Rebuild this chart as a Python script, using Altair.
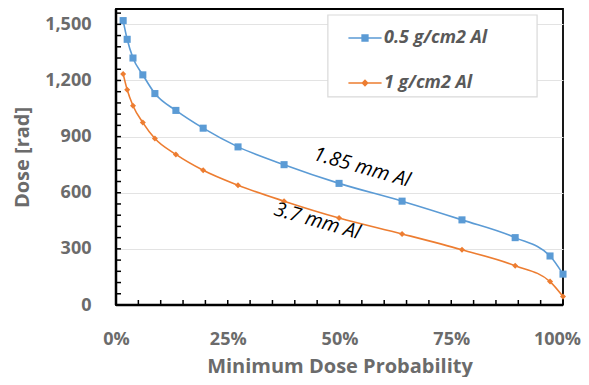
import altair as alt
import pandas as pd

# ---- data ----
series_names = ["0.5 g/cm2 Al", "1 g/cm2 Al"]
prob = [0.016, 0.025, 0.038, 0.060, 0.087, 0.134, 0.195, 0.273, 0.376,
        0.499, 0.640, 0.774, 0.893, 0.971, 1.000]
dose_05 = [1520, 1420, 1320, 1230, 1130, 1040, 945, 845, 750,
           650, 555, 455, 360, 262, 165]
dose_1 = [1235, 1150, 1065, 975, 890, 805, 720, 640, 555,
          465, 380, 295, 210, 125, 45]

y_ticks = [0, 300, 600, 900, 1200, 1500]
x_ticks = [0, 0.25, 0.5, 0.75, 1.0]
y_minor = list(range(0, 1561, 60))
x_minor = [i / 100 for i in range(0, 101, 5)]

ann_text = ["1.85 mm Al", "3.7 mm Al"]
ann_x = [0.55, 0.45]
ann_y = [735, 448]

colors = ["#5b9bd5", "#ed7d31"]
gray = "#6b6b6b"
font = "Open Sans"

rows = []
for name, vals in zip(series_names, [dose_05, dose_1]):
    for p, d in zip(prob, vals):
        rows.append({"series": name, "s2": name, "prob": p, "dose": d})
df = pd.DataFrame(rows)

W, H = 447, 296
xs = alt.Scale(domain=[0, 1], nice=False)
ys = alt.Scale(domain=[0, 1582], nice=False)

legend = alt.Legend(
    title=None, orient="none", legendX=210, legendY=7,
    labelFont=font, labelFontSize=18, labelFontStyle="italic",
    labelFontWeight="bold", labelColor="#595959", labelLimit=300,
    padding=5,
    symbolSize=1100, rowPadding=19, symbolOffset=17, labelOffset=2,
    symbolOpacity=1, symbolStrokeWidth=0,
)
legend_paths = [
    "M-1,-0.05H1V0.05H-1ZM-0.22,-0.22H0.22V0.22H-0.22Z",
    "M-1,-0.05H1V0.05H-1ZM0,-0.22L0.22,0L0,0.22L-0.22,0Z",
]

base = alt.Chart(df)

x_axis = alt.Axis(values=x_ticks, format=".0%", grid=False, ticks=False,
                  domain=False, labelPadding=25, labelFlush=False,
                  labelOffset=alt.ConditionalAxisNumber(
                      condition={"test": "datum.value >= 1", "value": -6}, value=0),
                  title="Minimum Dose Probability", titlePadding=8,
                  titleFontSize=20)
y_axis = alt.Axis(values=y_ticks, format=",.0f", grid=True, gridColor="#e3e3e3",
                  ticks=False, domain=False, labelPadding=25,
                  title="Dose [rad]", titlePadding=12, titleFontSize=20)

lines = base.mark_line(interpolate="monotone", strokeWidth=1.6).encode(
    x=alt.X("prob:Q", scale=xs, axis=x_axis),
    y=alt.Y("dose:Q", scale=ys, axis=y_axis),
    color=alt.Color("s2:N", scale=alt.Scale(domain=series_names, range=colors), legend=None),
)
points = base.mark_point(filled=True, opacity=1).encode(
    x="prob:Q", y="dose:Q",
    color=alt.Color("s2:N", scale=alt.Scale(domain=series_names, range=colors), legend=None),
    shape=alt.Shape("s2:N", scale=alt.Scale(domain=series_names, range=["square", "diamond"]), legend=None),
    size=alt.Size("s2:N", scale=alt.Scale(domain=series_names, range=[50, 36]), legend=None),
)
leg_layer = base.mark_point(filled=True, opacity=0).encode(
    x="prob:Q", y="dose:Q",
    color=alt.Color("series:N", scale=alt.Scale(domain=series_names, range=colors), legend=legend),
    shape=alt.Shape("series:N", scale=alt.Scale(domain=series_names, range=legend_paths), legend=legend),
)

# legend frame (placed through the chart's scales)
leg_box = alt.Chart(pd.DataFrame({"v": [0]})).mark_rect(
    fill="white", stroke="#d9d9d9", strokeWidth=1.2).encode(
    x=alt.X(datum=0.474, scale=xs), x2=alt.X2(datum=0.942),
    y=alt.Y(datum=1550, scale=ys), y2=alt.Y2(datum=1112))

ymin_df = pd.DataFrame({"v": y_minor})
xmin_df = pd.DataFrame({"v": x_minor})
ytick = alt.Chart(ymin_df).mark_rule(color="black", strokeWidth=1.5).encode(
    y=alt.Y("v:Q", scale=ys), x=alt.value(0), x2=alt.value(5))
xtick = alt.Chart(xmin_df).mark_rule(color="black", strokeWidth=1.5).encode(
    x=alt.X("v:Q", scale=xs), y=alt.value(H), y2=alt.value(H - 5))

yline = alt.Chart(pd.DataFrame({"v": [0]})).mark_rule(color="black", strokeWidth=2.5).encode(
    x=alt.X("v:Q", scale=xs), y=alt.value(0), y2=alt.value(H))
xline = alt.Chart(pd.DataFrame({"v": [0]})).mark_rule(color="black", strokeWidth=2.5).encode(
    y=alt.Y("v:Q", scale=ys), x=alt.value(0), x2=alt.value(W))

ann_df = pd.DataFrame({"t": ann_text, "x": ann_x, "y": ann_y})
ann = alt.Chart(ann_df).mark_text(angle=16, font=font, fontSize=20, color="black",
                                  fontStyle="italic").encode(
    x=alt.X("x:Q", scale=xs), y=alt.Y("y:Q", scale=ys), text="t:N")

chart = alt.layer(lines, points, leg_layer, leg_box, ytick, xtick, yline, xline, ann).resolve_scale(
    color="independent", shape="independent", size="independent"
).properties(
    width=W, height=H,
    autosize=alt.AutoSizeParams(type="none"),
    padding={"left": 108, "top": 1, "right": 18, "bottom": 72},
).configure_view(stroke="black", strokeWidth=1.8).configure_axis(
    labelFont=font, labelFontSize=18, labelFontWeight="bold", labelColor=gray,
    titleFont=font, titleFontWeight="bold", titleColor=gray,
)

chart.save("out.html", embed_options={"renderer": "svg", "actions": False})
